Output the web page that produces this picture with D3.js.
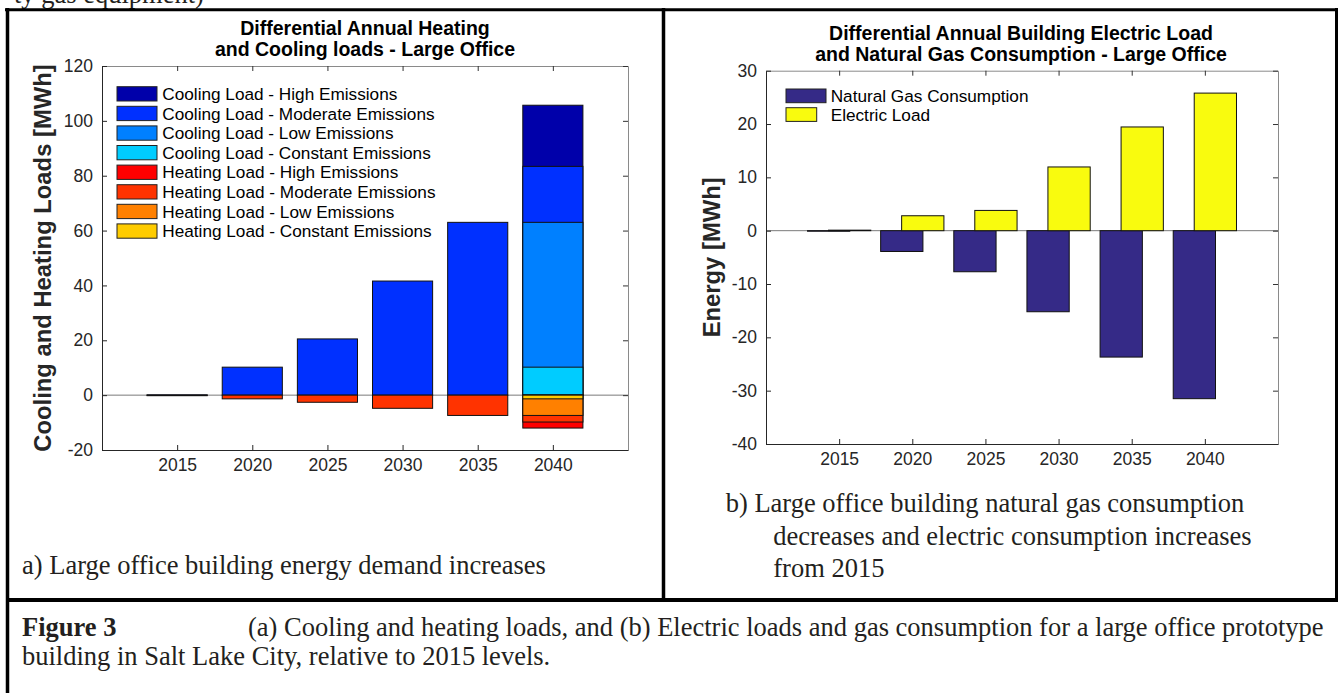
<!DOCTYPE html>
<html>
<head>
<meta charset="utf-8">
<script src="https://cdn.jsdelivr.net/npm/d3@7"></script>
<style>
body { margin: 0; background: #fff; }
svg { display: block; }
.tick text { font-family: "Liberation Sans", Arial, sans-serif; font-size: 17.5px; fill: #262626; }
.caption { font-family: "Liberation Serif", "Times New Roman", serif; font-size: 26.5px; fill: #231f20; }
.title { font-family: "Liberation Sans", Arial, sans-serif; font-weight: bold; font-size: 19.5px; fill: #000; }
.ylabel { font-family: "Liberation Sans", Arial, sans-serif; font-weight: bold; font-size: 23.8px; fill: #262626; }
.legend text { font-family: "Liberation Sans", Arial, sans-serif; font-size: 17.2px; fill: #000; }
</style>
</head>
<body>
<script>
// Figure 3 - large office, Salt Lake City

// years on both charts
var years = [2015, 2020, 2025, 2030, 2035, 2040];

// (a) cooling / heating loads [MWh], 2015-2035 (moderate emissions bars)
var earlyYears = [2015, 2020, 2025, 2030, 2035];
var coolingLoad = [0.1, 10.2, 20.5, 41.6, 63.0];
var heatingLoad = [-0.2, -1.35, -2.6, -4.8, -7.4];

// (a) 2040 by emissions scenario
var scenarios = ["High", "Moderate", "Low", "Constant"];
var cooling2040 = [105.7, 83.4, 63.0, 10.2];
var heating2040 = [-12.0, -9.8, -7.4, -1.35];
var coolColors = ["#0000AA", "#0030FF", "#0080FF", "#00CCFF"];
var heatColors = ["#FF0000", "#FF3300", "#FF8000", "#FFCC00"];

// (b) natural gas / electric [MWh]
var gasUse = [-0.1, -3.9, -7.7, -15.2, -23.7, -31.5];
var electricLoad = [0.1, 2.8, 3.8, 11.95, 19.45, 25.8];
var seriesB = ["Natural Gas Consumption", "Electric Load"];
var colorsB = ["#352A87", "#F9FB0E"];

// tick labels
var ticksA = [-20, 0, 20, 40, 60, 80, 100, 120];
var ticksB = [-40, -30, -20, -10, 0, 10, 20, 30];

var W = 1338, H = 693;

var svg = d3.select("body").append("svg")
    .attr("width", W)
    .attr("height", H)
    .style("background", "#fff");

// scales
var xA = d3.scaleLinear().domain([2010, 2045]).range([102, 628]);
var yA = d3.scaleLinear().domain([-20, 120]).range([450, 66]);
var xB = d3.scaleLinear().domain([2010, 2045]).range([766, 1278]);
var yB = d3.scaleLinear().domain([-40, 30]).range([444, 70.7]);

// plain hyphen for negatives, like the original
var fmt = function (d) { return String(d); };

function zeroLine(x, y) {
    svg.append("line")
        .attr("x1", x.range()[0]).attr("x2", x.range()[1])
        .attr("y1", y(0)).attr("y2", y(0))
        .attr("stroke", "#7a7a7a")
        .attr("stroke-width", 1);
}

function axes(x, y, yTicks) {
    var x0 = x.range()[0], x1 = x.range()[1];
    var y0 = y.range()[0], y1 = y.range()[1];

    // top and right box edges (no labels)
    var top = svg.append("g").attr("transform", "translate(0," + y1 + ")").attr("color", "#333")
        .call(d3.axisTop(x).tickValues(years).tickFormat("").tickSizeInner(-5).tickSizeOuter(0));
    top.select(".domain").attr("stroke", "#8a8a8a");
    var right = svg.append("g").attr("transform", "translate(" + x1 + ",0)").attr("color", "#333")
        .call(d3.axisRight(y).tickValues(yTicks).tickFormat("").tickSizeInner(-5).tickSizeOuter(0));
    right.select(".domain").attr("stroke", "#8a8a8a");

    // bottom and left axes
    svg.append("g").attr("transform", "translate(0," + y0 + ")").attr("color", "#262626")
        .call(d3.axisBottom(x).tickValues(years).tickFormat(fmt)
            .tickSizeInner(-5).tickSizeOuter(0).tickPadding(8.5));
    svg.append("g").attr("transform", "translate(" + x0 + ",0)").attr("color", "#262626")
        .call(d3.axisLeft(y).tickValues(yTicks).tickFormat(fmt)
            .tickSizeInner(-5).tickSizeOuter(0).tickPadding(9));
}

// ---------- chart (a) ----------
zeroLine(xA, yA);
var bwA = (xA(2015) - xA(2010)) * 0.8;

function barA(year, v, color) {
    svg.append("rect")
        .attr("x", xA(year) - bwA / 2)
        .attr("width", bwA)
        .attr("y", Math.min(yA(v), yA(0)))
        .attr("height", Math.max(Math.abs(yA(v) - yA(0)), 0.5))
        .attr("fill", color)
        .attr("stroke", "#111")
        .attr("stroke-width", 1);
}

earlyYears.forEach(function (yr, i) {
    barA(yr, coolingLoad[i], coolColors[1]);
    barA(yr, heatingLoad[i], heatColors[1]);
});
// 2040: scenarios overlap, largest behind
scenarios.forEach(function (s, i) { barA(2040, cooling2040[i], coolColors[i]); });
scenarios.forEach(function (s, i) { barA(2040, heating2040[i], heatColors[i]); });

axes(xA, yA, ticksA);

// legend (a)
var legA = svg.append("g").attr("class", "legend");
var legItemsA = scenarios.map(function (s, i) { return { label: "Cooling Load - " + s + " Emissions", color: coolColors[i] }; })
    .concat(scenarios.map(function (s, i) { return { label: "Heating Load - " + s + " Emissions", color: heatColors[i] }; }));
legItemsA.forEach(function (d, i) {
    var yy = 86.7 + i * 19.6;
    legA.append("rect").attr("x", 117).attr("y", yy).attr("width", 40).attr("height", 14.3)
        .attr("fill", d.color).attr("stroke", "#222").attr("stroke-width", 1);
    legA.append("text").attr("x", 162.3).attr("y", yy + 7.2).attr("dy", "0.35em").text(d.label);
});

svg.append("text").attr("class", "title").attr("text-anchor", "middle")
    .attr("x", 365).attr("y", 35).text("Differential Annual Heating");
svg.append("text").attr("class", "title").attr("text-anchor", "middle")
    .attr("x", 365).attr("y", 56).text("and Cooling loads - Large Office");

svg.append("text").attr("class", "ylabel").attr("text-anchor", "middle")
    .attr("transform", "translate(51," + (yA(50)) + ") rotate(-90)")
    .text("Cooling and Heating Loads [MWh]");

// ---------- chart (b) ----------
zeroLine(xB, yB);
var stepB = xB(2015) - xB(2010);
var bwB = stepB * 0.578, offB = stepB * 0.1435;

[gasUse, electricLoad].forEach(function (vals, k) {
    svg.selectAll(".barB" + k)
        .data(vals)
        .enter()
        .append("rect")
        .attr("class", "barB" + k)
        .attr("x", function (d, i) { return xB(years[i]) + (k === 0 ? -offB : offB) - bwB / 2; })
        .attr("width", bwB)
        .attr("y", function (d) { return Math.min(yB(d), yB(0)); })
        .attr("height", function (d) { return Math.max(Math.abs(yB(d) - yB(0)), 0.5); })
        .attr("fill", colorsB[k])
        .attr("stroke", "#111")
        .attr("stroke-width", 1);
});

axes(xB, yB, ticksB);

// legend (b) - swatches are not the same width in the original
var legB = svg.append("g").attr("class", "legend");
var swB = [40, 30.7];
seriesB.forEach(function (s, i) {
    var yy = 89 + i * 18.7;
    legB.append("rect").attr("x", 786).attr("y", yy).attr("width", swB[i]).attr("height", 13.7)
        .attr("fill", colorsB[i]).attr("stroke", "#222").attr("stroke-width", 1);
    legB.append("text").attr("x", 830.7).attr("y", yy + 6.9).attr("dy", "0.35em").text(s);
});

svg.append("text").attr("class", "title").attr("text-anchor", "middle")
    .attr("x", 1021).attr("y", 40).text("Differential Annual Building Electric Load");
svg.append("text").attr("class", "title").attr("text-anchor", "middle")
    .attr("x", 1021).attr("y", 61).text("and Natural Gas Consumption - Large Office");

svg.append("text").attr("class", "ylabel").attr("text-anchor", "middle")
    .attr("transform", "translate(720," + yB(-5) + ") rotate(-90)")
    .text("Energy [MWh]");

// ---------- page text and table borders ----------
// tail of the previous line of the page, cut by the crop
svg.append("text").attr("class", "caption").attr("x", 14).attr("y", 3).text("ty gas equipment)");

svg.append("text").attr("class", "caption").attr("x", 22).attr("y", 574)
    .text("a) Large office building energy demand increases");

var capB = svg.append("text").attr("class", "caption");
capB.append("tspan").attr("x", 725.7).attr("y", 511.7).text("b) Large office building natural gas consumption");
capB.append("tspan").attr("x", 773.3).attr("y", 545).text("decreases and electric consumption increases");
capB.append("tspan").attr("x", 773.3).attr("y", 577).text("from 2015");

var fig = svg.append("text").attr("class", "caption");
fig.append("tspan").attr("x", 22).attr("y", 636).style("font-weight", "bold").text("Figure 3");
fig.append("tspan").attr("x", 248).attr("y", 636)
    .text("(a) Cooling and heating loads, and (b) Electric loads and gas consumption for a large office prototype");
fig.append("tspan").attr("x", 22).attr("y", 665).text("building in Salt Lake City, relative to 2015 levels.");

var borders = [
    [5, 9.7, W, 9.7, 3],
    [7.5, 8, 7.5, H, 3.5],
    [663.5, 8, 663.5, 600, 3.5],
    [1336.5, 8, 1336.5, 600, 3],
    [6, 600, W, 600, 4]
];
borders.forEach(function (b) {
    svg.append("line")
        .attr("x1", b[0]).attr("y1", b[1]).attr("x2", b[2]).attr("y2", b[3])
        .attr("stroke", "#000").attr("stroke-width", b[4]);
});
</script>
</body>
</html>
